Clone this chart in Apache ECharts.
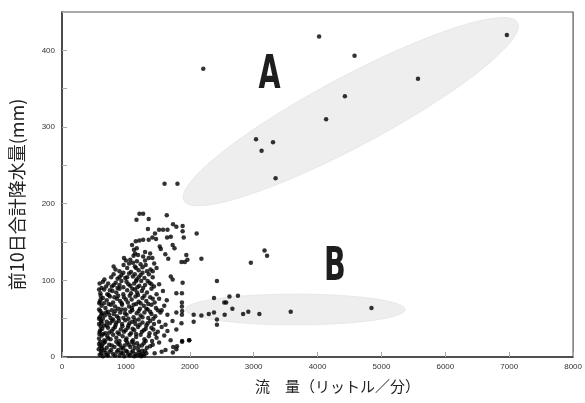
<!DOCTYPE html>
<html>
<head>
<meta charset="utf-8">
<script src="https://cdn.jsdelivr.net/npm/echarts@6/dist/echarts.min.js"></script>
<style>
  html, body { margin: 0; padding: 0; background: #fff; }
  #chart { width: 585px; height: 403px; }
</style>
</head>
<body>
<div id="chart"></div>
<script>
// axis ticks
const xTicks = [0, 1000, 2000, 3000, 4000, 5000, 6000, 7000, 8000];
const yTicks = [0, 100, 200, 300, 400];

// dense cluster (flow, rainfall)
const clusterPoints = [
  [590,3],[610,8],[640,1],[680,6],[720,2],[770,9],[800,4],[860,7],[900,2],[950,5],[1000,8],[1040,3],[1090,6],[1130,1],[1150,4],[1180,2],[1210,6],[1240,1],[1270,4],[1300,8],[1450,5],[1560,7],[1620,9],[1735,6],[1790,10],
  [600,14],[650,18],[700,12],[740,16],[820,13],[880,17],[930,12],[980,15],[1020,19],[1070,13],[1120,17],[1200,14],[1280,18],[1330,12],[1420,16],[1520,19],[1740,13],[1800,14],[1880,20],
  [580,24],[620,28],[660,22],[710,27],[760,23],[800,29],[850,25],[900,21],[950,27],[1010,24],[1060,29],[1110,22],[1160,26],[1230,29],[1290,23],[1360,27],[1410,21],[1480,25],[1600,28],[1700,22],[1880,21],[1990,22],
  [590,33],[630,37],[680,31],[720,38],[780,34],[830,39],[870,32],[920,36],[970,33],[1030,38],[1080,31],[1130,35],[1190,39],[1250,33],[1310,37],[1370,31],[1430,36],[1500,33],[1560,39],[1650,34],[1790,36],
  [580,43],[610,47],[660,41],[700,46],[750,44],[800,49],[840,42],[890,47],[940,43],[990,48],[1040,41],[1100,46],[1150,43],[1200,49],[1260,45],[1320,41],[1380,47],[1440,43],[1520,46],[1620,42],[1730,47],[1870,44],
  [590,52],[630,57],[670,54],[720,59],[760,51],[810,56],[860,53],[910,58],[960,51],[1010,55],[1070,59],[1120,52],[1170,57],[1230,54],[1290,58],[1350,51],[1400,56],[1460,53],[1540,58],[1650,55],[1790,58],[1877,55],[1880,60],
  [580,62],[620,67],[680,64],[730,69],[780,61],[830,66],[880,63],[940,68],[990,62],[1050,66],[1100,61],[1160,69],[1220,63],[1280,67],[1340,62],[1400,68],[1470,64],[1560,61],[1600,67],[1877,66],[1877,71],
  [590,72],[640,77],[700,74],[750,79],[800,71],[860,76],[910,73],[970,78],[1030,71],[1090,75],[1150,79],[1200,72],[1260,77],[1320,73],[1380,78],[1450,71],[1520,76],[1640,74],
  [600,83],[660,88],[730,81],[790,86],[850,84],[900,89],[960,82],[1020,87],[1080,83],[1140,88],[1190,81],[1250,86],[1330,84],[1400,89],[1480,82],[1580,86],[1790,83],[1877,83],
  [589,96],[640,98],[664,101],[722,96],[780,92],[840,97],[900,94],[960,91],[1010,98],[1070,93],[1130,96],[1180,91],[1240,99],[1300,94],[1370,97],[1440,92],[1520,95],[1888,97],
  [770,104],[808,108],[870,102],[930,107],[990,103],[1050,109],[1110,105],[1170,101],[1230,107],[1290,103],[1360,108],[1420,104],[1703,105],[1732,101],
  [808,118],[837,114],[900,112],[964,120],[1020,116],[1080,111],[1140,118],[1200,113],[1260,117],[1330,112],[1386,114],[1480,116],
  [970,129],[1068,127],[1110,123],[1172,125],[1230,121],[1270,131],[1357,129],[1415,129],[1443,122],[1663,128],[1870,124],[1923,124],[1963,127],
  [1126,140],[1143,135],[1190,133],[1300,137],[1380,135],[1617,134],[1946,133],
  [1097,146],[1170,142],[1530,144],[1547,141],[1732,146],[1761,142],
  [1155,151],[1212,152],[1270,153],[1357,153],[1415,156],[1472,154],[1645,156],[1703,157],[1905,156],
  [1345,167],[1455,161],[1519,166],[1582,166],[1651,166],[1888,164],[2108,161],
  [1166,179],[1212,187],[1270,187],[1357,180],[1640,185],[1738,173],[1790,170],[1888,171],
  [575,10],[600,20],[585,30],[605,40],[580,50],[600,60],[585,70],[605,80],[580,88],[620,45],[615,55],[625,15],
  [615,5],[660,9],[700,3],[745,7],[830,2],[880,9],[925,6],[975,1],[1020,7],[1065,2],[1110,8],[1195,9],[1225,3],[1255,8],[1285,2],[1320,5],
  [580,17],[625,11],[675,20],[720,24],[780,15],[850,20],[905,16],[955,11],[1000,22],[1045,16],[1095,20],[1140,12],[1175,18],[1250,15],[1310,21],[1380,14],
  [600,35],[645,30],[700,41],[740,32],[805,37],[850,45],[895,30],[945,40],[995,35],[1055,44],[1105,37],[1160,30],[1215,42],[1280,35],[1340,44],[1400,38],[1460,30],
  [640,50],[690,58],[740,55],[785,47],[835,60],[885,51],[935,62],[985,57],[1040,50],[1095,64],[1145,48],[1200,60],[1260,52],[1320,63],[1380,59],[1430,50],[1500,61],
  [605,75],[655,70],[710,82],[765,68],[820,78],[880,80],[935,70],[1000,75],[1060,80],[1120,68],[1175,84],[1230,70],[1290,80],[1350,69],[1420,76],
  [620,90],[690,92],[750,87],[810,94],[870,90],[930,99],[1040,95],[1100,89],[1160,99],[1210,93],[1270,90],[1340,99],[1400,95],
  [900,104],[960,110],[1020,104],[1140,108],[1200,104],[1260,110],[1310,120],[1160,116],[1050,122],[1000,126],[1300,126],[1420,112],[1120,132]
];

// scattered points to the right (groups A and B and between)
const outlierPoints = [
  [4024,418],[6963,420],[4579,393],[2211,376],[5572,363],[4428,340],[4134,310],
  [3037,284],[3303,280],[3124,269],[3343,233],[1605,226],[1807,226],
  [3170,139],[3210,132],[2956,123],[2182,128],[2425,99],
  [4844,64],[3580,59],[3089,56],[2916,59],[2835,56],[2667,63],[2546,55],
  [2621,79],[2754,80],[2379,77],[2570,71],[2540,71],[2379,58],[2298,56],
  [2182,54],[2061,55],[2061,46],[2425,49],[2425,42],[1992,22]
];

// shaded groups: centre, half major axis vector, half minor axis vector (data units)
const groupNames = ['A', 'B'];
const groupCentres = [[4520, 320], [3653, 62]];
const groupMajor = [[2611, 116], [1718, 0]];
const groupMinor = [[254, -40], [0, 20]];
const groupLabelPos = [[3250, 366], [4272, 116]];

const chart = echarts.init(document.getElementById('chart'));

const labelFont = { fontFamily: 'Liberation Sans', fontSize: 8, color: '#333' };
const cjk = '"Noto Sans CJK JP", "Noto Sans"';

const option = {
  animation: false,
  backgroundColor: '#fff',
  grid: {
    left: 60, right: 8, top: 12, bottom: 46,
    show: true, borderColor: '#555', borderWidth: 1.2
  },
  xAxis: {
    type: 'value',
    min: xTicks[0], max: xTicks[xTicks.length - 1], interval: 1000,
    name: '流　量（リットル／分）',
    nameLocation: 'middle', nameGap: 22,
    nameTextStyle: { fontFamily: cjk, fontSize: 15, color: '#222', padding: [0, 0, 0, 40] },
    axisLine: { show: true, lineStyle: { color: '#333', width: 1.5 } },
    axisTick: { show: true, inside: true, length: 5, lineStyle: { color: '#aaa' } },
    axisLabel: { ...labelFont, margin: 6, formatter: v => String(v) },
    splitLine: { show: false }
  },
  yAxis: {
    type: 'value',
    min: yTicks[0], max: 450, interval: 100,
    name: '前10日合計降水量(mm)',
    nameLocation: 'middle', nameGap: 36, nameRotate: 90,
    nameTextStyle: { fontFamily: cjk, fontSize: 18, color: '#222', padding: [0, 20, 0, 0] },
    axisLine: { show: true, lineStyle: { color: '#333', width: 1.5 } },
    axisTick: { show: true, inside: true, length: 5, lineStyle: { color: '#aaa' } },
    minorTick: { show: true, splitNumber: 2, length: 5, lineStyle: { color: '#aaa' } },
    axisLabel: {
      ...labelFont, margin: 7,
      formatter: v => (yTicks.indexOf(v) >= 0 ? String(v) : '')
    },
    splitLine: { show: false }
  },
  series: [
    {
      type: 'custom',
      z: 1,
      silent: true,
      data: groupCentres.map(c => c.slice()),
      encode: { x: 0, y: 1 },
      renderItem: function (params, api) {
        const i = params.dataIndex;
        const c = groupCentres[i], M = groupMajor[i], m = groupMinor[i];
        const pts = [];
        for (let k = 0; k < 90; k++) {
          const t = (k / 90) * Math.PI * 2;
          const ct = Math.cos(t), st = Math.sin(t);
          pts.push(api.coord([c[0] + ct * M[0] + st * m[0], c[1] + ct * M[1] + st * m[1]]));
        }
        return {
          type: 'polygon',
          shape: { points: pts },
          style: { fill: '#eeeeee', stroke: '#e8e8e8', lineWidth: 1 }
        };
      }
    },
    {
      type: 'custom',
      z: 2,
      silent: true,
      data: groupLabelPos.map(p => p.slice()),
      encode: { x: 0, y: 1 },
      renderItem: function (params, api) {
        const p = api.coord(groupLabelPos[params.dataIndex]);
        return {
          type: 'text',
          x: p[0], y: p[1],
          scaleX: 0.62,
          style: {
            text: groupNames[params.dataIndex],
            font: 'bold 46px "DejaVu Sans"',
            fill: '#1e1e1e',
            align: 'center',
            verticalAlign: 'middle'
          }
        };
      }
    },
    {
      type: 'scatter',
      z: 3,
      data: clusterPoints,
      symbol: 'circle',
      symbolSize: 4.5,
      itemStyle: { color: '#000' }
    },
    {
      type: 'scatter',
      z: 3,
      data: outlierPoints,
      symbol: 'circle',
      symbolSize: 4.5,
      itemStyle: { color: '#000' }
    }
  ]
};

chart.setOption(option);
</script>
</body>
</html>
